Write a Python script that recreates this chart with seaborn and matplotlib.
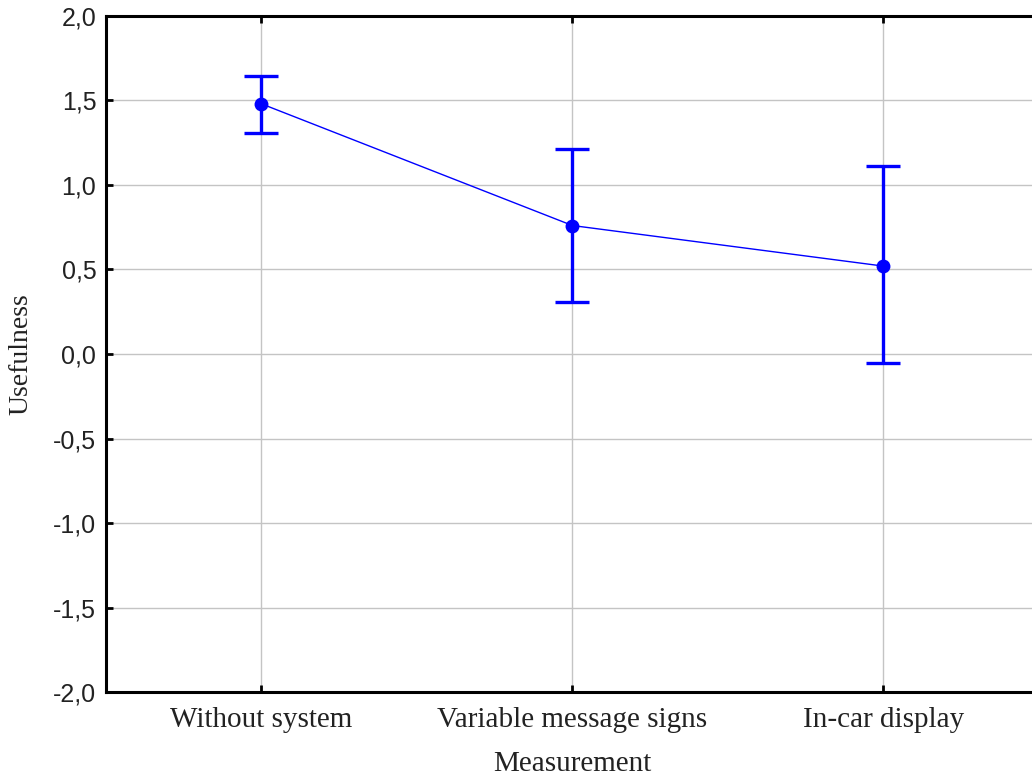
import matplotlib
matplotlib.use("Agg")
import matplotlib.pyplot as plt
import seaborn as sns
from matplotlib.ticker import FuncFormatter, MultipleLocator

# values
categories = ["Without system", "Variable message signs", "In-car display"]
means = [1.48, 0.76, 0.52]
upper = [1.645, 1.215, 1.11]
lower = [1.31, 0.31, -0.055]

sns.set_theme(style="whitegrid")
plt.rcParams['font.family'] = ['Liberation Sans', 'DejaVu Sans']

fig = plt.figure(figsize=(10.32, 7.78), dpi=100)
# right edge of the axes runs past the figure, as in the cropped original
ax = fig.add_axes([0.1027, 0.1105, 0.904, 0.869])

sns.lineplot(x=categories, y=means, ax=ax, sort=False, color="blue",
             linewidth=1, marker="o", markersize=10, markeredgewidth=0, zorder=3)

yerr = [[m - lo for m, lo in zip(means, lower)],
        [up - m for m, up in zip(means, upper)]]
ax.errorbar(categories, means, yerr=yerr, fmt="none", ecolor="blue",
            elinewidth=2.4, capsize=12, capthick=2.4, zorder=3)

ax.set_xlim(-0.5, 2.5)
ax.set_ylim(-2.0, 2.0)
ax.yaxis.set_major_locator(MultipleLocator(0.5))
ax.yaxis.set_major_formatter(FuncFormatter(lambda v, p: f"{v:.1f}".replace(".", ",")))

ax.grid(True, color="#c4c4c4", linewidth=1.0)
ax.set_axisbelow(True)
for side in ["left", "bottom", "top", "right"]:
    ax.spines[side].set_visible(True)
    ax.spines[side].set_color("black")
    ax.spines[side].set_linewidth(2.2)

ax.tick_params(direction="in", length=5, width=2, color="black",
               left=True, bottom=True, top=True, right=False)
ax.tick_params(axis="y", labelsize=18, labelcolor="#222222", pad=7)
ax.tick_params(axis="x", labelsize=21, labelcolor="#222222", pad=11)
for lab in ax.get_xticklabels():
    lab.set_fontfamily("Liberation Serif")

ax.set_xlabel("Measurement", fontsize=21, family="Liberation Serif",
              color="#222222", labelpad=13)
ax.set_ylabel("Usefulness", fontsize=20, family="Liberation Serif",
              color="#222222", labelpad=14)

fig.savefig("out.png", dpi=100)
